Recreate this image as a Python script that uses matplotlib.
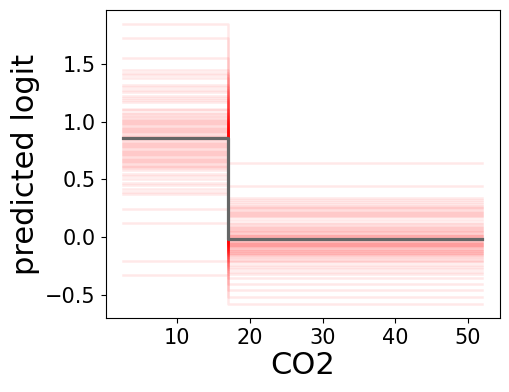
import numpy as np
import matplotlib
matplotlib.use("Agg")
import matplotlib.pyplot as plt

# CO2 grid: start, threshold, end
co2_grid = [2.6, 17.0, 51.9]

# predicted logit of each individual curve, before and after the threshold
left_logit = [1.85, 1.73, 1.56, 1.45, 1.43, 1.41, 1.38, 1.32, 1.30, 1.28, 1.26,
              1.23, 1.21, 1.19, 1.17, 1.11, 1.10, 1.08, 1.07, 1.05, 1.04, 1.03,
              1.02, 1.01, 1.00, 0.99, 0.98, 0.97, 0.96, 0.95, 0.94, 0.93, 0.92,
              0.91, 0.90, 0.89, 0.88, 0.87, 0.86, 0.85, 0.84, 0.83, 0.82, 0.81,
              0.80, 0.79, 0.78, 0.77, 0.76, 0.75, 0.74, 0.73, 0.72, 0.71, 0.70,
              0.69, 0.68, 0.67, 0.66, 0.65, 0.64, 0.63, 0.62, 0.61, 0.60, 0.58,
              0.55, 0.53, 0.50, 0.47, 0.45, 0.42, 0.39, 0.37, 0.24, 0.12,
              -0.21, -0.33]
right_logit = [0.64, 0.445, 0.34, 0.32, 0.30, 0.29, 0.27, 0.26, 0.25, 0.24, 0.23,
               0.22, 0.21, 0.20, 0.19, 0.18, 0.17, 0.15, 0.12, 0.11, 0.10, 0.09,
               0.08, 0.07, 0.06, 0.05, 0.04, 0.04, 0.03, 0.02, 0.02, 0.01, 0.01,
               0.00, -0.01, -0.01, -0.02, -0.02, -0.03, -0.03, -0.04, -0.04,
               -0.05, -0.05, -0.06, -0.06, -0.07, -0.07, -0.08, -0.08, -0.09,
               -0.09, -0.10, -0.10, -0.11, -0.12, -0.12, -0.13, -0.14, -0.14,
               -0.15, -0.16, -0.16, -0.17, -0.18, -0.20, -0.21, -0.22, -0.24,
               -0.26, -0.28, -0.30, -0.32, -0.355, -0.41, -0.46, -0.52, -0.585]

fig = plt.figure(figsize=(5.1, 3.92), dpi=100)
ax = fig.add_axes([0.207, 0.188, 0.773, 0.786])

for l, r in zip(left_logit, right_logit):
    ax.plot(co2_grid, [l, r, r], drawstyle="steps-post", color="red",
            alpha=0.09, lw=1.8)

mean_l = np.mean(left_logit)
mean_r = np.mean(right_logit)
ax.plot(co2_grid, [mean_l, mean_r, mean_r], drawstyle="steps-post",
        color="#666666", lw=2.3)

ax.set_xticks([10, 20, 30, 40, 50])
ax.set_yticks([-0.5, 0.0, 0.5, 1.0, 1.5])
ax.tick_params(labelsize=15)
ax.set_xlabel("CO2", fontsize=22, labelpad=2)
ax.set_ylabel("predicted logit", fontsize=22)

fig.savefig("out.png", dpi=100)
